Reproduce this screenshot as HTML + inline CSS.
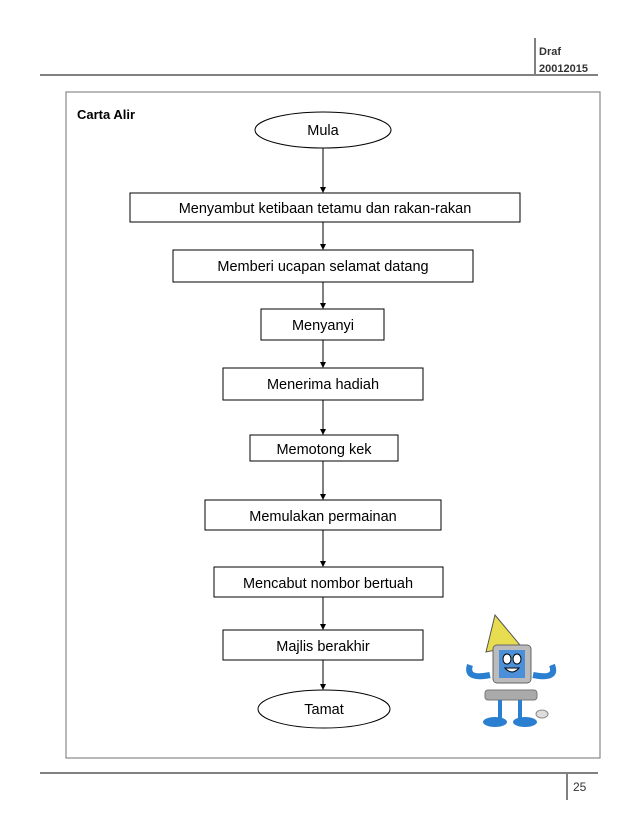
<!DOCTYPE html>
<html><head><meta charset="utf-8"><style>
html,body{margin:0;padding:0;background:#fff;}
body{width:638px;height:826px;position:relative;overflow:hidden;font-family:"Liberation Sans",sans-serif;}
</style></head><body>
<svg width="638" height="826" viewBox="0 0 638 826" xmlns="http://www.w3.org/2000/svg" style="position:absolute;left:0;top:0">
<line x1="40" y1="75" x2="598" y2="75" stroke="#808080" stroke-width="2"/>
<line x1="535" y1="38" x2="535" y2="75" stroke="#808080" stroke-width="2"/>
<text x="539" y="55" font-size="11" font-weight="bold" fill="#333">Draf</text>
<text x="539" y="72" font-size="11" font-weight="bold" fill="#333">20012015</text>
<rect x="66" y="92" width="534" height="666" fill="none" stroke="#888" stroke-width="1.2"/>
<text x="77" y="119" font-size="13" font-weight="bold" fill="#000">Carta Alir</text>
<g stroke="#000" stroke-width="1">
<line x1="323" y1="148" x2="323" y2="188"/>
<line x1="323" y1="222" x2="323" y2="245"/>
<line x1="323" y1="282" x2="323" y2="304"/>
<line x1="323" y1="340" x2="323" y2="363"/>
<line x1="323" y1="400" x2="323" y2="430"/>
<line x1="323" y1="461" x2="323" y2="495"/>
<line x1="323" y1="530" x2="323" y2="562"/>
<line x1="323" y1="597" x2="323" y2="625"/>
<line x1="323" y1="660" x2="323" y2="685"/>
</g>
<g fill="#000">
<path d="M320,187 L326,187 L323,193 Z"/>
<path d="M320,244 L326,244 L323,250 Z"/>
<path d="M320,303 L326,303 L323,309 Z"/>
<path d="M320,362 L326,362 L323,368 Z"/>
<path d="M320,429 L326,429 L323,435 Z"/>
<path d="M320,494 L326,494 L323,500 Z"/>
<path d="M320,561 L326,561 L323,567 Z"/>
<path d="M320,624 L326,624 L323,630 Z"/>
<path d="M320,684 L326,684 L323,690 Z"/>
</g>
<g fill="#fff" stroke="#000" stroke-width="1">
<ellipse cx="323" cy="130" rx="68" ry="18"/>
<rect x="130" y="193" width="390" height="29"/>
<rect x="173" y="250" width="300" height="32"/>
<rect x="261" y="309" width="123" height="31"/>
<rect x="223" y="368" width="200" height="32"/>
<rect x="250" y="435" width="148" height="26"/>
<rect x="205" y="500" width="236" height="30"/>
<rect x="214" y="567" width="229" height="30"/>
<rect x="223" y="630" width="200" height="30"/>
<ellipse cx="324" cy="709" rx="66" ry="19"/>
</g>
<g font-size="14.5" fill="#000" text-anchor="middle">
<text x="323" y="135">Mula</text>
<text x="325" y="213">Menyambut ketibaan tetamu dan rakan-rakan</text>
<text x="323" y="271">Memberi ucapan selamat datang</text>
<text x="323" y="330">Menyanyi</text>
<text x="323" y="389">Menerima hadiah</text>
<text x="324" y="454">Memotong kek</text>
<text x="323" y="521">Memulakan permainan</text>
<text x="328" y="588">Mencabut nombor bertuah</text>
<text x="323" y="651">Majlis berakhir</text>
<text x="324" y="714">Tamat</text>
</g>
<g>
<polygon points="495,615 486,652 520,645" fill="#e8dc50" stroke="#555" stroke-width="1"/>
<rect x="493" y="645" width="38" height="38" rx="4" fill="#bbb" stroke="#666"/>
<rect x="499" y="650" width="26" height="28" fill="#4a8fd8"/>
<ellipse cx="507" cy="659" rx="4" ry="5" fill="#fff" stroke="#000"/>
<ellipse cx="517" cy="659" rx="4" ry="5" fill="#fff" stroke="#000"/>
<path d="M505,668 Q512,676 519,668 Z" fill="#fff" stroke="#000"/>
<path d="M470,665 Q465,680 490,675" fill="none" stroke="#2a7fd0" stroke-width="6"/>
<path d="M552,665 Q558,680 533,675" fill="none" stroke="#2a7fd0" stroke-width="6"/>
<rect x="485" y="690" width="52" height="10" rx="3" fill="#aaa" stroke="#777"/>
<ellipse cx="542" cy="714" rx="6" ry="4" fill="#ddd" stroke="#888"/>
<ellipse cx="495" cy="722" rx="12" ry="5" fill="#2a7fd0"/>
<ellipse cx="525" cy="722" rx="12" ry="5" fill="#2a7fd0"/>
<line x1="500" y1="700" x2="500" y2="718" stroke="#2a7fd0" stroke-width="4"/>
<line x1="520" y1="700" x2="520" y2="718" stroke="#2a7fd0" stroke-width="4"/>
</g>
<line x1="40" y1="773" x2="598" y2="773" stroke="#808080" stroke-width="2"/>
<line x1="567" y1="773" x2="567" y2="800" stroke="#808080" stroke-width="2"/>
<text x="573" y="791" font-size="12" fill="#333">25</text>
</svg>
</body></html>
